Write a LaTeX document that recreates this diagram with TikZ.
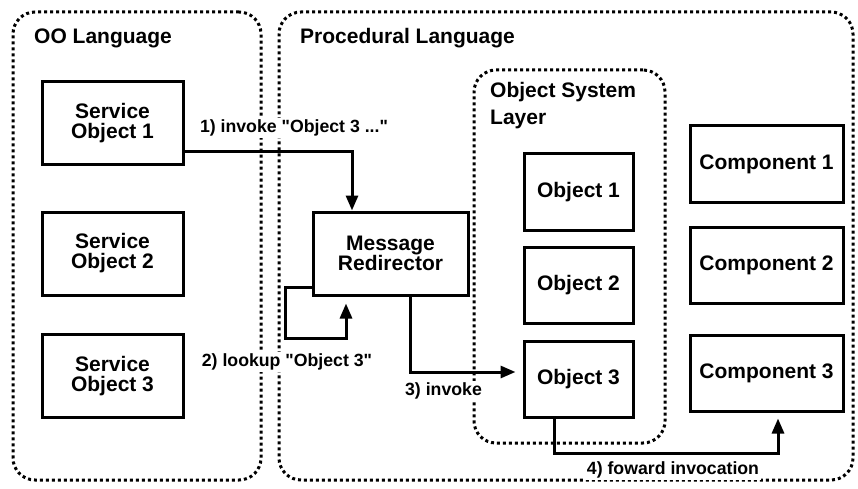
\documentclass[tikz,border=0pt]{standalone}
\usepackage{fontspec}
\setmainfont{Liberation Sans}[Ligatures=TeXOff]
\usetikzlibrary{arrows.meta,calc}
\tikzset{
  grp/.style={draw, line width=3pt, dash pattern=on 3pt off 3pt, rounded corners=22pt, inner sep=0pt},
  box/.style={draw, line width=3pt, inner sep=0pt, align=center, font=\bfseries\fontsize{21}{20}\selectfont},
  sobox/.style={box, minimum width=141pt, minimum height=83pt},
  obbox/.style={box, minimum width=109pt, minimum height=76pt},
  cobox/.style={box, minimum width=153pt, minimum height=76pt},
  ttl/.style={font=\bfseries\fontsize{21}{27}\selectfont, inner sep=0pt, align=left},
  conn/.style={line width=3pt, -{Triangle[length=15pt,width=12pt]}},
  elab/.style={fill=white, inner sep=1.5pt, font=\bfseries\fontsize{17.7}{18}\selectfont}
}
\begin{document}
\begin{tikzpicture}[x=1pt,y=-1pt]
\useasboundingbox (0,0) rectangle (858,489);
% containers
\node[grp, minimum width=248pt, minimum height=468pt] (oo) at (137,246) {};
\node[grp, minimum width=574pt, minimum height=468pt] (proc) at (566,246) {};
\node[grp, minimum width=191pt, minimum height=373pt] (osl) at (569.5,256.5) {};
% titles
\node[ttl, anchor=west] (t1) at (34,38) {OO Language};
\node[ttl, anchor=west] (t2) at (300,38) {Procedural Language};
\node[ttl, anchor=north west] (t3) at (490,82) {Object System\\Layer};
% boxes
\node[sobox] (so1) at (112.5,123) {Service\\Object 1};
\node[sobox] (so2) at (112.5,253.5) {Service\\Object 2};
\node[sobox] (so3) at (112.5,376) {Service\\Object 3};
\node[box, minimum width=155pt, minimum height=83pt] (mr) at (390.5,253.5) {Message\\Redirector};
\node[obbox] (ob1) at (578.5,192) {Object 1};
\node[obbox] (ob2) at (578.5,285) {Object 2};
\node[obbox] (ob3) at (578.5,379.5) {Object 3};
\node[cobox] (c1) at (766.5,164) {Component 1};
\node[cobox] (c2) at (766.5,265) {Component 2};
\node[cobox] (c3) at (766.5,373) {Component 3};
% labels
\node[elab] (l1) at (294,128) {1) invoke "Object 3 ..."};
\node[elab] (l2) at (287,362) {2) lookup "Object 3"};
\node[elab] (l3) at (443.5,391) {3) invoke};
\node[elab] (l4) at (673,470) {4) foward invocation};
% connectors
\draw[conn] ([yshift=14pt]so1.south east) -| ([xshift=-38.5pt]mr.north);
\draw[conn] ([yshift=9pt]mr.south west) -| ++(-26pt,-51pt) -| ([xshift=-44.5pt,yshift=-7pt]mr.south);
\draw[conn] ([xshift=19.5pt]mr.south) |- ([xshift=-7pt,yshift=7.5pt]ob3.west);
\draw[conn] ([xshift=-24.5pt]ob3.south) -- ++(0,-34pt) -| ([xshift=11.5pt,yshift=-6pt]c3.south);
\end{tikzpicture}
\end{document}
